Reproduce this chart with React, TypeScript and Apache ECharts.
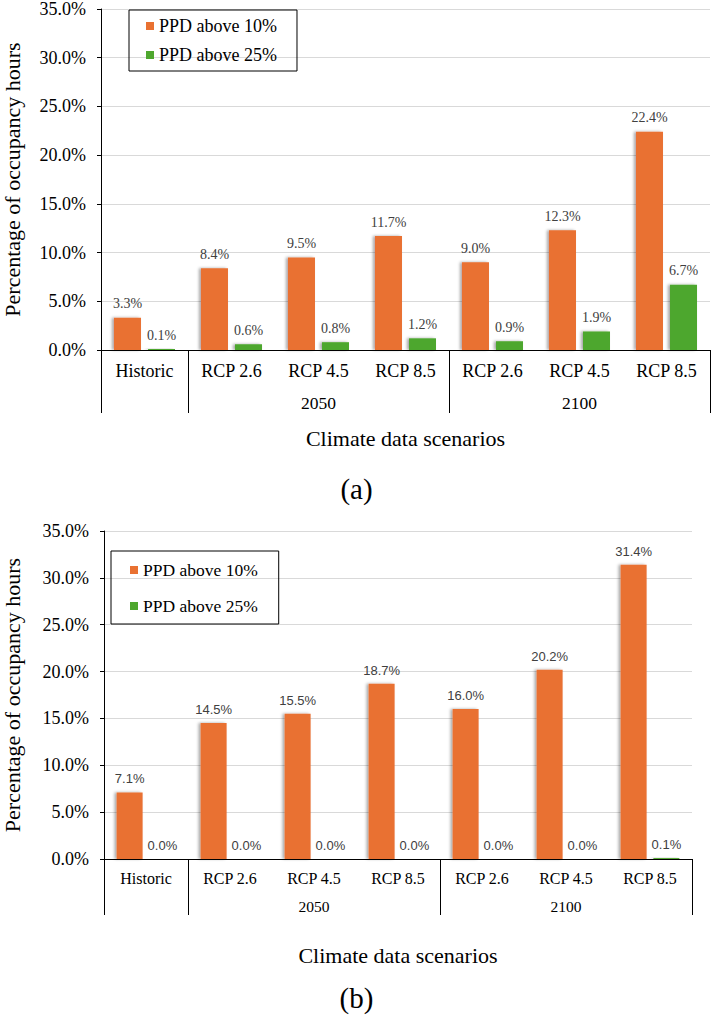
import React, { useEffect, useRef } from 'react';
import * as echarts from 'echarts';

const categories = ['Historic', 'RCP 2.6', 'RCP 4.5', 'RCP 8.5', 'RCP 2.6', 'RCP 4.5', 'RCP 8.5'];
const groupLabels = ['', '', '2050', '', '', '2100', ''];
const groupStarts = [0, 1, 4];
const seriesNames = ['PPD above 10%', 'PPD above 25%'];
const panelTitles = ['(a)', '(b)'];
const xAxisTitle = 'Climate data scenarios';
const yAxisTitle = 'Percentage of occupancy hours';
const aPPD10 = [3.3, 8.4, 9.5, 11.7, 9.0, 12.3, 22.4];
const aPPD25 = [0.1, 0.6, 0.8, 1.2, 0.9, 1.9, 6.7];
const bPPD10 = [7.1, 14.5, 15.5, 18.7, 16.0, 20.2, 31.4];
const bPPD25 = [0.0, 0.0, 0.0, 0.0, 0.0, 0.0, 0.1];
const yMin = 0;
const yMax = 35;
const yInterval = 5;

const SERIF = 'Liberation Serif';
const SANS = 'Liberation Sans';
const ORANGE = '#E97132';
const GREEN = '#4EA72E';

const pct = (v: number) => v.toFixed(1) + '%';

function panel(i: number, cfg: any) {
  const yAxis = {
    type: 'value',
    gridIndex: i,
    min: yMin,
    max: yMax,
    interval: yInterval,
    axisLine: { show: true, lineStyle: { color: '#000', width: 1 } },
    axisTick: { show: true, length: 4, lineStyle: { color: '#000' } },
    axisLabel: { formatter: (v: number) => pct(v), fontSize: 18, fontFamily: SERIF, color: '#000', margin: 15 },
    splitLine: { show: true, lineStyle: { color: '#d9d9d9', width: 1 } },
    name: yAxisTitle,
    nameLocation: 'middle',
    nameGap: cfg.yNameGap,
    nameTextStyle: { fontSize: 22, fontFamily: SERIF, color: '#000' },
  };
  const xAxes = [
    {
      type: 'category',
      gridIndex: i,
      data: categories,
      position: 'bottom',
      axisLine: { show: true, onZero: false, lineStyle: { color: '#000', width: 1 } },
      axisTick: {
        show: true,
        alignWithLabel: false,
        interval: (idx: number) => groupStarts.indexOf(idx) >= 0,
        length: cfg.tickLen,
        lineStyle: { color: '#000', width: 1 },
      },
      axisLabel: { interval: 0, fontSize: cfg.catFont, fontFamily: SERIF, color: '#000', margin: cfg.catMargin },
      splitLine: { show: false },
      name: xAxisTitle,
      nameLocation: 'middle',
      nameGap: cfg.xNameGap,
      nameTextStyle: { fontSize: 22, fontFamily: SERIF, color: '#000' },
    },
    {
      type: 'category',
      gridIndex: i,
      data: groupLabels,
      position: 'bottom',
      offset: cfg.groupOffset,
      axisLine: { show: false },
      axisTick: { show: false },
      axisLabel: { interval: 0, fontSize: cfg.groupFont, fontFamily: SERIF, color: '#000', margin: cfg.catMargin },
      splitLine: { show: false },
    },
  ];
  const shadow = { shadowBlur: 3, shadowColor: 'rgba(0,0,0,0.35)', shadowOffsetX: -2, shadowOffsetY: 0 };
  const label = {
    show: true,
    position: 'top',
    distance: 7,
    formatter: (p: any) => pct(p.value),
    fontSize: cfg.labelFont,
    fontFamily: cfg.labelFamily,
    color: '#404040',
  };
  const series = [
    {
      type: 'bar',
      name: seriesNames[0],
      xAxisIndex: i * 2,
      yAxisIndex: i,
      data: cfg.d10,
      barWidth: cfg.barWidth,
      barGap: '26%',
      itemStyle: { color: ORANGE, ...shadow },
      label,
    },
    {
      type: 'bar',
      name: seriesNames[1],
      xAxisIndex: i * 2,
      yAxisIndex: i,
      data: cfg.d25,
      barWidth: cfg.barWidth,
      barGap: '26%',
      itemStyle: { color: GREEN, ...shadow },
      label,
    },
  ];
  const legend = {
    data: seriesNames,
    orient: 'vertical',
    left: cfg.legendLeft,
    top: cfg.legendTop,
    padding: cfg.legendPadding,
    itemGap: cfg.legendGap,
    itemWidth: 8,
    itemHeight: 8,
    icon: 'rect',
    borderColor: '#000',
    borderWidth: 1,
    selectedMode: false,
    textStyle: { fontSize: cfg.legendFont, fontFamily: SERIF, color: '#000' },
  };
  const title = {
    text: cfg.title,
    left: 'center',
    top: cfg.titleTop,
    textStyle: { fontSize: 29, fontFamily: SERIF, fontWeight: 'normal', color: '#000' },
  };
  const grid = { left: cfg.left, top: cfg.top, width: cfg.width, height: cfg.height, containLabel: false, outerBoundsMode: 'none' };
  return { yAxis, xAxes, series, legend, title, grid };
}

export default function App() {
  const ref = useRef<HTMLDivElement>(null);
  useEffect(() => {
    if (!ref.current) return;
    const chart = echarts.init(ref.current, null, { renderer: 'svg' });
    const b = panel(0, {
      title: panelTitles[1],
      left: 104, top: 531, width: 588, height: 328,
      tickLen: 56, catFont: 16, groupFont: 15.5, catMargin: 11, groupOffset: 28,
      xNameGap: 85, yNameGap: 81, labelFont: 13, labelFamily: SANS, barWidth: 26,
      d10: bPPD10, d25: bPPD25,
      legendLeft: 111, legendTop: 551, legendPadding: [10, 21, 9, 19], legendGap: 18, legendFont: 17.5,
      titleTop: 978,
    });
    const a = panel(1, {
      title: panelTitles[0],
      left: 101, top: 9, width: 609, height: 341,
      tickLen: 63, catFont: 18, groupFont: 17.5, catMargin: 12, groupOffset: 32,
      xNameGap: 77, yNameGap: 78, labelFont: 14, labelFamily: SERIF, barWidth: 27,
      d10: aPPD10, d25: aPPD25,
      legendLeft: 129, legendTop: 10, legendPadding: [7, 20, 7, 17], legendGap: 11, legendFont: 18,
      titleTop: 469,
    });
    chart.setOption({
      animation: false,
      backgroundColor: '#fff',
      title: [b.title, a.title],
      legend: [b.legend, a.legend],
      grid: [b.grid, a.grid],
      xAxis: [...b.xAxes, ...a.xAxes],
      yAxis: [b.yAxis, a.yAxis],
      series: [...b.series, ...a.series],
    });
    return () => chart.dispose();
  }, []);
  return <div ref={ref} style={{ position: 'absolute', left: 0, top: 0, width: 713, height: 1017 }} />;
}
